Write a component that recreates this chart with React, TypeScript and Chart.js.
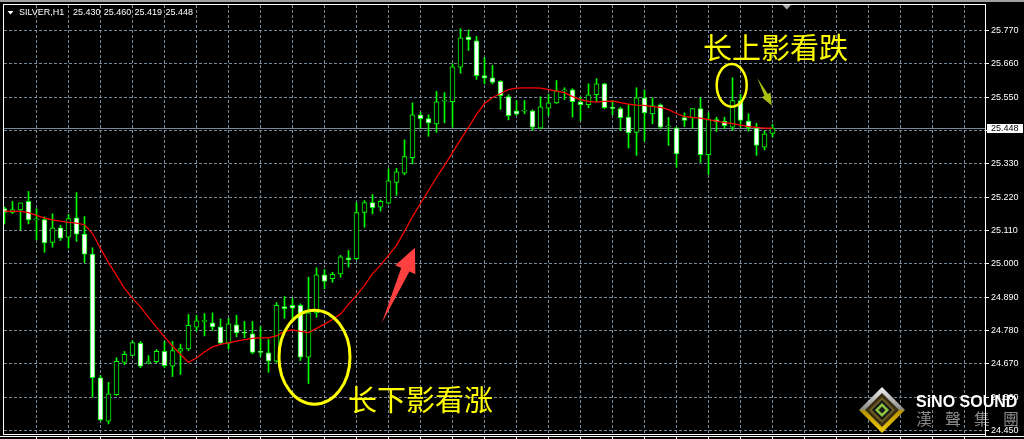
import React, { useEffect, useRef } from "react";
import { Chart, registerables } from "chart.js";

Chart.register(...registerables);

// ---------- data ----------
const symbolLabel = "SILVER,H1";
const headerQuote = ["25.430", "25.460", "25.419", "25.448"];

const opens = [
  25.182, 25.170, 25.178, 25.206, 25.145, 25.146, 25.071, 25.119, 25.088, 25.152,
  25.098, 25.032, 24.624, 24.481, 24.568, 24.675, 24.698, 24.738, 24.674, 24.677,
  24.711, 24.662, 24.712, 24.719, 24.791, 24.810, 24.805, 24.792, 24.738, 24.799,
  24.772, 24.769, 24.709, 24.706, 24.679, 24.859, 24.863, 24.863, 24.692, 24.838,
  24.964, 24.951, 24.967, 25.020, 25.017, 25.170, 25.202, 25.187, 25.200, 25.269,
  25.299, 25.350, 25.492, 25.479, 25.462, 25.537, 25.535, 25.649, 25.749, 25.736,
  25.621, 25.614, 25.602, 25.552, 25.505, 25.504, 25.505, 25.448, 25.514, 25.531,
  25.571, 25.574, 25.535, 25.525, 25.558, 25.594, 25.514, 25.512, 25.484, 25.434,
  25.548, 25.495, 25.525, 25.452, 25.449, 25.483, 25.482, 25.512, 25.360, 25.476,
  25.471, 25.451, 25.539, 25.471, 25.449, 25.385, 25.430,
];
const highs = [
  25.187, 25.206, 25.201, 25.239, 25.182, 25.155, 25.165, 25.127, 25.163, 25.235,
  25.156, 25.053, 24.632, 24.609, 24.690, 24.711, 24.746, 24.744, 24.697, 24.717,
  24.744, 24.744, 24.735, 24.833, 24.830, 24.836, 24.838, 24.818, 24.820, 24.830,
  24.810, 24.810, 24.793, 24.750, 24.872, 24.892, 24.886, 24.868, 24.956, 24.987,
  24.981, 24.972, 25.028, 25.044, 25.202, 25.209, 25.229, 25.211, 25.314, 25.315,
  25.409, 25.531, 25.500, 25.492, 25.569, 25.565, 25.660, 25.776, 25.772, 25.751,
  25.681, 25.655, 25.605, 25.558, 25.539, 25.539, 25.508, 25.551, 25.559, 25.605,
  25.581, 25.578, 25.550, 25.594, 25.611, 25.596, 25.539, 25.517, 25.525, 25.581,
  25.574, 25.548, 25.528, 25.483, 25.450, 25.498, 25.512, 25.548, 25.498, 25.484,
  25.484, 25.614, 25.559, 25.495, 25.464, 25.438, 25.460,
];
const lows = [
  25.132, 25.166, 25.112, 25.132, 25.079, 25.038, 25.055, 25.077, 25.052, 25.074,
  25.004, 24.560, 24.481, 24.472, 24.566, 24.667, 24.697, 24.657, 24.670, 24.673,
  24.657, 24.628, 24.635, 24.714, 24.778, 24.762, 24.780, 24.733, 24.719, 24.759,
  24.756, 24.703, 24.694, 24.642, 24.675, 24.820, 24.816, 24.681, 24.605, 24.824,
  24.918, 24.939, 24.956, 24.989, 25.014, 25.121, 25.165, 25.174, 25.198, 25.226,
  25.294, 25.330, 25.448, 25.421, 25.434, 25.465, 25.451, 25.629, 25.704, 25.609,
  25.594, 25.594, 25.510, 25.475, 25.490, 25.495, 25.440, 25.446, 25.490, 25.529,
  25.542, 25.484, 25.473, 25.515, 25.536, 25.512, 25.492, 25.440, 25.382, 25.358,
  25.405, 25.462, 25.446, 25.391, 25.319, 25.453, 25.448, 25.335, 25.295, 25.437,
  25.446, 25.440, 25.451, 25.438, 25.358, 25.376, 25.419,
];
const closes = [
  25.170, 25.179, 25.201, 25.145, 25.146, 25.069, 25.119, 25.085, 25.149, 25.098,
  25.032, 24.624, 24.485, 24.571, 24.678, 24.701, 24.740, 24.662, 24.676, 24.711,
  24.664, 24.714, 24.720, 24.797, 24.812, 24.811, 24.792, 24.738, 24.802, 24.772,
  24.771, 24.708, 24.708, 24.679, 24.863, 24.852, 24.854, 24.692, 24.838, 24.964,
  24.942, 24.965, 25.023, 25.013, 25.169, 25.202, 25.185, 25.206, 25.274, 25.304,
  25.354, 25.492, 25.479, 25.465, 25.535, 25.538, 25.650, 25.746, 25.739, 25.621,
  25.613, 25.599, 25.555, 25.489, 25.494, 25.505, 25.451, 25.518, 25.531, 25.571,
  25.572, 25.535, 25.525, 25.558, 25.594, 25.515, 25.513, 25.482, 25.432, 25.548,
  25.498, 25.522, 25.451, 25.453, 25.363, 25.473, 25.512, 25.360, 25.476, 25.469,
  25.456, 25.539, 25.473, 25.449, 25.391, 25.429, 25.448,
];
const maLine = [
  25.174, 25.173, 25.173, 25.169, 25.160, 25.151, 25.145, 25.141, 25.137, 25.134,
  25.129, 25.100, 25.051, 25.004, 24.962, 24.919, 24.886, 24.858, 24.823, 24.790,
  24.759, 24.729, 24.701, 24.675, 24.689, 24.709, 24.726, 24.734, 24.739, 24.745,
  24.750, 24.754, 24.756, 24.756, 24.762, 24.777, 24.782, 24.777, 24.773, 24.787,
  24.801, 24.816, 24.834, 24.866, 24.896, 24.929, 24.968, 24.995, 25.028, 25.061,
  25.107, 25.156, 25.199, 25.242, 25.285, 25.325, 25.367, 25.410, 25.450, 25.493,
  25.529, 25.549, 25.562, 25.575, 25.580, 25.581, 25.581, 25.580, 25.575, 25.570,
  25.565, 25.552, 25.542, 25.536, 25.534, 25.536, 25.537, 25.532, 25.527, 25.524,
  25.523, 25.519, 25.516, 25.509, 25.496, 25.486, 25.483, 25.481, 25.476, 25.471,
  25.466, 25.463, 25.458, 25.453, 25.450, 25.448, 25.448,
];

const priceTicks = [
  25.77, 25.66, 25.55, 25.44, 25.33, 25.22, 25.11, 25.0, 24.89, 24.78, 24.67, 24.56, 24.45,
];
const priceMin = 24.43845;
const priceMax = 25.85415;
const candleMin = -0.0625;
const candleMax = 122.5625;
const gridEvery = 4;

// annotations anchored in data space: [candle index, price]
const notes = [
  { text: "长下影看涨", at: [42.94, 24.552] },
  { text: "长上影看跌", at: [87.31, 25.712] },
];
const rings = [
  { at: [38.75, 24.692], rx: 35.5, ry: 47, w: 3 },
  { at: [90.9, 25.589], rx: 15, ry: 21.3, w: 2.5 },
];
const arrows = [
  { from: [47.15, 24.804], to: [51.31, 25.053], head: 24, headHalf: 11, shaftHalf: 4.5, color: "#ff4040" },
  { from: [94.1, 25.613], to: [95.9, 25.5225], head: 12, headHalf: 5, shaftHalf: 2, color: "#aabf10" },
];

const LIME = "#00ff00";
const GRID = "#778899";
const lastClose = closes[closes.length - 1];

function diamond(ctx: CanvasRenderingContext2D, cx: number, cy: number, r: number) {
  ctx.beginPath();
  ctx.moveTo(cx, cy - r);
  ctx.lineTo(cx + r, cy);
  ctx.lineTo(cx, cy + r);
  ctx.lineTo(cx - r, cy);
  ctx.closePath();
}

const mtPlugin = {
  id: "mt4look",
  beforeDraw(chart: any) {
    const { ctx, width, height } = chart;
    ctx.save();
    ctx.fillStyle = "#000000";
    ctx.fillRect(0, 0, width, height);
    ctx.fillStyle = "#a0a0a0";
    ctx.fillRect(0, 0, width, 2);
    ctx.restore();
  },
  beforeDatasetsDraw(chart: any) {
    const { ctx, chartArea: ca, scales } = chart;
    const y = Math.round(scales.y.getPixelForValue(lastClose) - 0.5) + 0.5;
    ctx.save();
    ctx.strokeStyle = GRID;
    ctx.lineWidth = 1;
    ctx.beginPath();
    ctx.moveTo(ca.left, y);
    ctx.lineTo(ca.right, y);
    ctx.stroke();
    ctx.restore();
  },
  afterDraw(chart: any) {
    const { ctx, chartArea: ca, scales, width, height } = chart;
    const xs = scales.x;
    const ys = scales.y;
    const px = (p: number[]) => [xs.getPixelForValue(p[0]), ys.getPixelForValue(p[1])];
    ctx.save();

    // rings
    ctx.strokeStyle = "#ffff00";
    for (const r of rings) {
      const [cx, cy] = px(r.at);
      ctx.lineWidth = r.w;
      ctx.beginPath();
      ctx.ellipse(cx, cy, r.rx, r.ry, 0, 0, Math.PI * 2);
      ctx.stroke();
    }
    // arrows
    for (const a of arrows) {
      const [tx, ty] = px(a.from);
      const [hx, hy] = px(a.to);
      const dx = hx - tx;
      const dy = hy - ty;
      const len = Math.hypot(dx, dy);
      const ux = dx / len;
      const uy = dy / len;
      const nx = -uy;
      const ny = ux;
      const bx = hx - ux * a.head;
      const by = hy - uy * a.head;
      ctx.beginPath();
      ctx.moveTo(tx, ty);
      ctx.lineTo(bx + nx * a.shaftHalf, by + ny * a.shaftHalf);
      ctx.lineTo(bx + nx * a.headHalf, by + ny * a.headHalf);
      ctx.lineTo(hx, hy);
      ctx.lineTo(bx - nx * a.headHalf, by - ny * a.headHalf);
      ctx.lineTo(bx - nx * a.shaftHalf, by - ny * a.shaftHalf);
      ctx.closePath();
      ctx.fillStyle = a.color;
      ctx.fill();
    }
    // notes
    ctx.font = '29px "Noto Sans CJK SC"';
    ctx.fillStyle = "#ffff00";
    ctx.textBaseline = "middle";
    ctx.textAlign = "left";
    for (const n of notes) {
      const [x, y] = px(n.at);
      ctx.fillText(n.text, x, y);
    }

    // watermark logo
    const lx = 882;
    const ly = 410;
    const g = ctx.createLinearGradient(0, ly - 23, 0, ly + 23);
    g.addColorStop(0, "#f4f4f4");
    g.addColorStop(0.48, "#8c8c8c");
    g.addColorStop(0.52, "#b89400");
    g.addColorStop(1, "#f0cc10");
    diamond(ctx, lx, ly, 23);
    ctx.fillStyle = g;
    ctx.fill();
    diamond(ctx, lx, ly, 17);
    ctx.fillStyle = "#3a2e12";
    ctx.fill();
    diamond(ctx, lx, ly, 13);
    ctx.fillStyle = "#6b5a22";
    ctx.fill();
    diamond(ctx, lx, ly, 10);
    ctx.fillStyle = "#161616";
    ctx.fill();
    diamond(ctx, lx, ly, 7);
    ctx.fillStyle = "#8cc63f";
    ctx.fill();
    diamond(ctx, lx, ly, 3.5);
    ctx.fillStyle = "#1a1a1a";
    ctx.fill();
    ctx.fillStyle = "#ffffff";
    ctx.font = 'bold 16px "Liberation Sans"';
    ctx.textBaseline = "alphabetic";
    ctx.fillText("SiNO SOUND", 916, 407);
    ctx.fillStyle = "#8a8a8a";
    ctx.font = '16px "Noto Sans CJK TC"';
    ctx.textBaseline = "middle";
    const cjk = ["漢", "聲", "集", "團"];
    cjk.forEach((c, i) => ctx.fillText(c, 916 + i * 29, 419));

    // frame
    ctx.fillStyle = "#ffffff";
    ctx.fillRect(ca.left - 1, ca.top - 1, ca.right - ca.left + 2, 1);
    ctx.fillRect(ca.left - 1, ca.top - 1, 1, ca.bottom - ca.top + 2);
    ctx.fillRect(ca.right, ca.top - 1, 1, height - ca.top - 1);
    ctx.fillRect(ca.left - 1, ca.bottom, ca.right - ca.left + 2, 1);
    ctx.fillRect(0, ca.bottom + 2, width, 1);
    for (const t of xs.ticks) {
      const x = Math.round(xs.getPixelForValue(t.value) - 0.5);
      ctx.fillRect(x, ca.bottom + 3, 1, 2);
    }

    // current price label
    const py = Math.round(ys.getPixelForValue(lastClose) - 0.5) + 0.5;
    ctx.fillStyle = "#ffffff";
    ctx.fillRect(ca.right + 2, Math.round(py - 4.5), 36, 9);
    ctx.fillStyle = "#000000";
    ctx.font = '9px "Liberation Sans"';
    ctx.textBaseline = "middle";
    ctx.fillText(lastClose.toFixed(3), ca.right + 6, py + 0.5);

    // header
    ctx.fillStyle = "#ffffff";
    ctx.beginPath();
    ctx.moveTo(7.5, 11);
    ctx.lineTo(13.5, 11);
    ctx.lineTo(10.5, 14.5);
    ctx.closePath();
    ctx.fill();
    ctx.font = '9px "Liberation Sans"';
    ctx.fillText(symbolLabel, 19, 12.5);
    headerQuote.forEach((q, i) => ctx.fillText(q, 73 + i * 30.8, 12.5));

    // chart shift marker
    ctx.fillStyle = "#a9a9a9";
    ctx.beginPath();
    ctx.moveTo(782.5, 5);
    ctx.lineTo(791, 5);
    ctx.lineTo(786.75, 9.5);
    ctx.closePath();
    ctx.fill();

    ctx.restore();
  },
};

export default function App() {
  const ref = useRef<HTMLCanvasElement>(null);
  useEffect(() => {
    const canvas = ref.current;
    if (!canvas) return;
    const idx = opens.map((_, i) => i);
    const chart = new Chart(canvas, {
      type: "bar",
      data: {
        datasets: [
          {
            type: "line",
            label: "MA",
            data: idx.map((i) => ({ x: i, y: maLine[i] })),
            borderColor: "#ff0000",
            borderWidth: 1.25,
            pointRadius: 0,
            tension: 0,
            order: 0,
          } as any,
          {
            type: "bar",
            label: "body",
            data: idx.map((i) => ({ x: i, y: [opens[i], closes[i]] })),
            backgroundColor: idx.map((i) => (closes[i] < opens[i] ? "#ffffff" : "#000000")),
            borderColor: LIME,
            borderWidth: 1,
            borderSkipped: false,
            barThickness: 5,
            minBarLength: 1,
            grouped: false,
            order: 1,
          } as any,
          {
            type: "bar",
            label: "wick",
            data: idx.map((i) => ({ x: i, y: [lows[i], highs[i]] })),
            backgroundColor: LIME,
            borderWidth: 0,
            barThickness: 1,
            grouped: false,
            order: 2,
          } as any,
        ],
      },
      options: {
        responsive: false,
        animation: false,
        devicePixelRatio: 1,
        events: [],
        layout: { padding: { left: 4, top: 5, right: 0, bottom: 5 }, autoPadding: false } as any,
        plugins: { legend: { display: false }, tooltip: { enabled: false } },
        scales: {
          x: {
            type: "linear",
            min: candleMin,
            max: candleMax,
            offset: false,
            ticks: { display: false },
            grid: { color: GRID, lineWidth: 1, drawTicks: false, offset: false },
            border: { display: false, dash: [3, 2] },
            afterBuildTicks: (scale: any) => {
              const t: any[] = [];
              for (let v = gridEvery; v <= candleMax; v += gridEvery) t.push({ value: v });
              scale.ticks = t;
            },
            afterFit: (scale: any) => {
              scale.height = 0;
              scale.paddingLeft = 0;
              scale.paddingRight = 0;
            },
          } as any,
          y: {
            type: "linear",
            position: "right",
            min: priceMin,
            max: priceMax,
            beginAtZero: false,
            ticks: {
              color: "#ffffff",
              font: { family: "Liberation Sans", size: 9 },
              padding: 2,
              autoSkip: false,
              callback: (v: any) => (Math.abs(Number(v) - lastClose) < 0.02 ? "" : Number(v).toFixed(3)),
            },
            grid: { color: GRID, lineWidth: 1, drawTicks: true, tickLength: 4, tickColor: "#ffffff" },
            border: { display: false, dash: [3, 2] },
            afterBuildTicks: (scale: any) => {
              scale.ticks = priceTicks.map((v) => ({ value: v }));
            },
            afterFit: (scale: any) => {
              scale.width = 39;
              scale.paddingTop = 0;
              scale.paddingBottom = 0;
            },
          } as any,
        },
      } as any,
      plugins: [mtPlugin],
    });
    return () => chart.destroy();
  }, []);
  return (
    <div style={{ position: "absolute", left: 0, top: 0, width: 1024, height: 439, background: "#000" }}>
      <canvas ref={ref} width={1024} height={439} style={{ display: "block", width: 1024, height: 439 }} />
    </div>
  );
}
